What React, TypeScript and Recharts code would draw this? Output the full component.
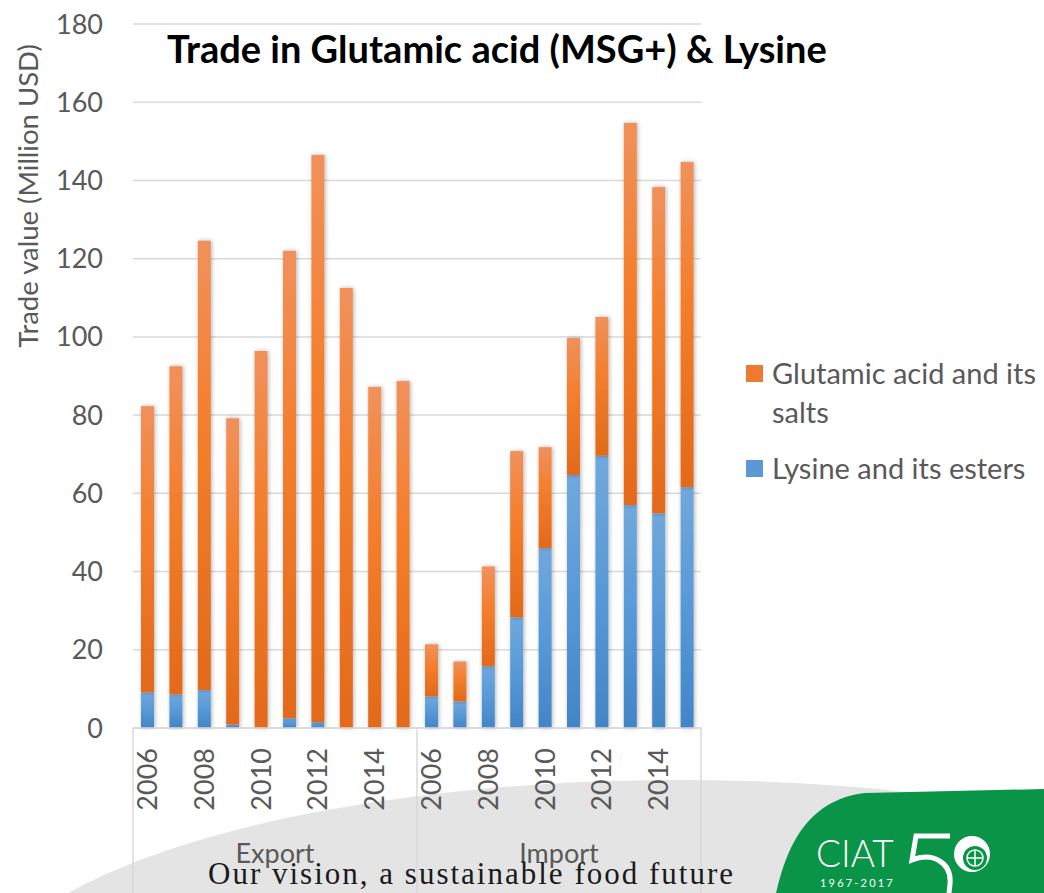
import React from 'react';
import { BarChart, Bar, XAxis, YAxis, CartesianGrid, Legend } from 'recharts';

const years = [2006, 2007, 2008, 2009, 2010, 2011, 2012, 2013, 2014, 2015];
const groups = ['Export', 'Import'];
const exportLysine = [9.1, 8.6, 9.7, 0.9, 0, 2.5, 1.5, 0, 0, 0];
const exportGlutamic = [73.2, 83.9, 114.9, 78.3, 96.4, 119.5, 145.0, 112.5, 87.2, 88.7];
const importLysine = [8.1, 6.8, 15.8, 28.3, 46.0, 64.7, 69.6, 57.0, 54.9, 61.6];
const importGlutamic = [13.3, 10.2, 25.5, 42.5, 25.8, 35.0, 35.5, 97.7, 83.4, 83.1];
const yTicks = [0, 20, 40, 60, 80, 100, 120, 140, 160, 180];

const rows = groups.flatMap((g, gi) =>
  years.map((yr, i) => ({
    key: `${g}-${yr}`,
    group: g,
    year: yr,
    lysine: gi === 0 ? exportLysine[i] : importLysine[i],
    glutamic: gi === 0 ? exportGlutamic[i] : importGlutamic[i],
  }))
);

const GRAY = '#595959';
const LINE = '#d9d9d9';

const ShadowBar = (p: any) => (
  <rect x={p.x} y={p.y} width={p.width} height={Math.max(0, p.height)} fill={p.fill} filter="url(#barShadow)" />
);

const YearTick = (props: any) => {
  const { x, y, payload, index } = props;
  const row = rows[index];
  const half = payload && payload.offset ? payload.offset : 14.2;
  return (
    <g>
      {row && row.year % 2 === 0 && (
        <text
          transform={`translate(${x},${y + 12}) rotate(-90)`}
          textAnchor="end"
          dy="0.36em"
          fontSize={27}
          fill={GRAY}
        >
          {row.year}
        </text>
      )}
      {(index === 0 || index === 10) && (
        <line x1={x - half} x2={x - half} y1={y - 8} y2={y + 170} stroke={LINE} strokeWidth={1.5} />
      )}
      {index === rows.length - 1 && (
        <line x1={x + half} x2={x + half} y1={y - 8} y2={y + 170} stroke={LINE} strokeWidth={1.5} />
      )}
    </g>
  );
};

const GroupTick = (props: any) => {
  const { x, y, payload } = props;
  return (
    <text x={x} y={y + 17} textAnchor="middle" fontSize={27} fill={GRAY}>
      {payload.value}
    </text>
  );
};

const legendItems = [
  { name: 'Glutamic acid and its salts', color: '#ee7a30' },
  { name: 'Lysine and its esters', color: '#5a98d6' },
];

const LegendBox = () => (
  <div style={{ fontFamily: 'Lato', fontSize: 29, color: GRAY, lineHeight: '39px' }}>
    {legendItems.map((it, i) => (
      <div key={it.name} style={{ display: 'flex', alignItems: 'flex-start', marginTop: i ? 17 : 0 }}>
        <svg width={17} height={17} style={{ marginTop: 12, marginRight: 9, flex: 'none' }}>
          <rect width={17} height={17} fill={it.color} />
        </svg>
        <div style={{ width: 272 }}>{it.name}</div>
      </div>
    ))}
  </div>
);

const App: React.FC = () => {
  return (
    <div
      style={{
        position: 'absolute',
        left: 0,
        top: 0,
        width: 1044,
        height: 893,
        overflow: 'hidden',
        background: '#fff',
        fontFamily: 'Lato, sans-serif',
      }}
    >
      <svg width={1044} height={893} style={{ position: 'absolute', left: 0, top: 0 }}>
        <ellipse cx={680} cy={1000} rx={700} ry={220} fill="#e4e4e4" />
      </svg>

      <div style={{ position: 'absolute', left: 0, top: 0 }}>
        <BarChart
          width={1044}
          height={893}
          data={rows}
          margin={{ top: 24, right: 343, bottom: 0, left: 73 }}
          barSize={13}
        >
          <defs>
            <linearGradient id="orangeGrad" x1="0" y1="0" x2="0" y2="1">
              <stop offset="0%" stopColor="#f0915b" />
              <stop offset="40%" stopColor="#f47f2e" />
              <stop offset="100%" stopColor="#e3691a" />
            </linearGradient>
            <linearGradient id="blueGrad" x1="0" y1="0" x2="0" y2="1">
              <stop offset="0%" stopColor="#70a8dc" />
              <stop offset="50%" stopColor="#5799d8" />
              <stop offset="100%" stopColor="#4285c7" />
            </linearGradient>
            <filter id="barShadow" x="-60%" y="-5%" width="220%" height="110%">
              <feDropShadow dx={1} dy={0} stdDeviation={2.2} floodColor="#000" floodOpacity={0.3} />
            </filter>
          </defs>
          <CartesianGrid vertical={false} stroke={LINE} strokeWidth={1.5} xAxisId="a" />
          <XAxis
            xAxisId="b"
            dataKey="group"
            allowDuplicatedCategory={false}
            interval={0}
            height={55}
            axisLine={false}
            tickLine={false}
            tick={<GroupTick />}
          />
          <XAxis
            xAxisId="a"
            dataKey="key"
            interval={0}
            height={110}
            axisLine={{ stroke: LINE, strokeWidth: 1.5 }}
            tickLine={false}
            tick={<YearTick />}
          />
          <YAxis
            width={60}
            domain={[0, 180]}
            ticks={yTicks}
            axisLine={false}
            tickLine={false}
            tickSize={0}
            tickMargin={30}
            tick={{ fontSize: 27, fill: GRAY }}
          />
          <Legend
            layout="vertical"
            align="center"
            verticalAlign="middle"
            content={<LegendBox />}
            wrapperStyle={{ left: 746, top: 353, width: 298 }}
          />
          <Bar
            xAxisId="a"
            dataKey="lysine"
            name="Lysine and its esters"
            stackId="s"
            fill="url(#blueGrad)"
            shape={ShadowBar}
            isAnimationActive={false}
          />
          <Bar
            xAxisId="a"
            dataKey="glutamic"
            name="Glutamic acid and its salts"
            stackId="s"
            fill="url(#orangeGrad)"
            shape={ShadowBar}
            isAnimationActive={false}
          />
        </BarChart>
      </div>

      <svg
        width={1044}
        height={893}
        style={{ position: 'absolute', left: 0, top: 0, pointerEvents: 'none' }}
      >
        <text x={167} y={63} fontSize={38} fontWeight={700} fill="#000">
          Trade in Glutamic acid (MSG+) &amp; Lysine
        </text>
        <text
          transform="translate(38,196) rotate(-90)"
          textAnchor="middle"
          fontSize={27.5}
          fill={GRAY}
        >
          Trade value (Million USD)
        </text>
        <text
          x={208}
          y={884}
          fontFamily="'Liberation Serif', serif"
          fontSize={31}
          textLength={525}
          lengthAdjust="spacing"
          fill="#1a1a1a"
        >
          Our vision, a sustainable food future
        </text>
        {/* CIAT logo */}
        <path d="M 776 893 C 786 850 805 800 865 793 L 1044 789 L 1044 893 Z" fill="#0a9447" />
        <text x={816} y={867} fontSize={37} fontWeight={300} fill="#fff">CIAT</text>
        <text x={820} y={887} fontSize={11} letterSpacing={2.2} fill="#fff">1967-2017</text>
        <path
          d="M 950 836 L 916 836 L 912 860 C 932 852 952 862 950 884 L 949 893"
          fill="none"
          stroke="#fff"
          strokeWidth={5}
        />
        <circle cx={972} cy={854} r={18} fill="#fff" />
        <circle cx={975} cy={858} r={12} fill="#0a9447" />
        <circle cx={975} cy={858} r={8} fill="none" stroke="#fff" strokeWidth={1.5} />
        <line x1={967} x2={983} y1={858} y2={858} stroke="#fff" strokeWidth={1.5} />
        <line x1={975} x2={975} y1={850} y2={866} stroke="#fff" strokeWidth={1.5} />
      </svg>
    </div>
  );
};

export default App;
